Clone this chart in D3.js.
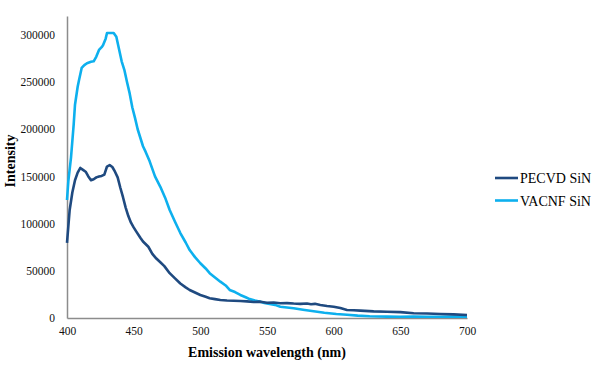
<!DOCTYPE html>
<html>
<head>
<meta charset="utf-8">
<script src="https://cdn.jsdelivr.net/npm/d3@7"></script>
<style>
  body { margin: 0; background: #fff; }
  text { font-family: "Liberation Serif", "Times New Roman", serif; }
</style>
</head>
<body>
<div id="chart"></div>
<script>
// series names
const seriesNames = ["PECVD SiN", "VACNF SiN"];

// wavelength / intensity
const pecvdWl = [400, 402, 404, 406, 408, 410, 412, 414, 416, 418, 420, 422, 424, 426, 428, 430, 432, 434, 436, 438, 440, 442, 444, 446, 448, 450, 452, 455, 457, 461, 464, 467, 470, 473, 477, 481, 485, 489, 492, 496, 500, 504, 507, 511, 515, 520, 525, 530, 535, 540, 545, 550, 555, 560, 565, 570, 575, 580, 583, 586, 590, 595, 600, 605, 610, 615, 620, 630, 640, 650, 660, 670, 680, 690, 700];
const pecvdVal = [79500, 114500, 133000, 146000, 154000, 159000, 157000, 155000, 150000, 146000, 147000, 149000, 150000, 150500, 152000, 160500, 162000, 160000, 155000, 149000, 138000, 128000, 117000, 108000, 101000, 96000, 91500, 85000, 81000, 75500, 68000, 63000, 59000, 55000, 47500, 42000, 36500, 32500, 29700, 27000, 24400, 22500, 21000, 20000, 19000, 18500, 18200, 18000, 17600, 17000, 17300, 16200, 16500, 15600, 15800, 15300, 15000, 15400, 14600, 15000, 13800, 12800, 12000, 10500, 8500, 8200, 7800, 7000, 6700, 6200, 5000, 4800, 4200, 3800, 3200];

const vacnfWl = [400, 401, 403, 405, 406, 408, 409, 411, 413, 415, 418, 420, 422, 424, 426, 427, 429, 430, 432, 435, 437, 439, 441, 443, 445, 447, 449, 451, 453, 455, 457, 459, 462, 466, 470, 474, 477, 481, 485, 489, 492, 496, 500, 504, 507, 511, 515, 519, 522, 526, 530, 534, 537, 541, 545, 548, 552, 556, 560, 565, 570, 577, 585, 593, 602, 610, 618, 627, 640, 650, 660, 670, 680, 690, 700];
const vacnfVal = [125000, 145000, 170000, 205000, 226000, 245000, 252000, 265000, 268000, 270000, 271500, 272000, 277000, 284000, 287000, 289000, 296000, 302000, 302000, 302000, 298000, 285000, 272000, 263000, 250000, 238000, 223000, 212000, 200000, 191000, 182000, 176000, 166000, 150000, 139000, 126000, 114500, 102000, 90000, 80000, 72000, 64500, 58000, 52500, 47500, 43000, 38500, 34500, 29700, 27500, 24400, 22000, 20000, 18500, 17300, 16000, 14800, 13900, 12000, 11200, 10300, 8800, 7200, 5600, 4300, 3500, 2500, 1800, 1500, 1400, 1500, 1300, 1400, 1500, 1500];

const xTicks = [400, 450, 500, 550, 600, 650, 700];
const yTicks = [0, 50000, 100000, 150000, 200000, 250000, 300000];
const colors = ["#1f4a80", "#0db0ee"];
const serif = "'Liberation Serif', 'Times New Roman', serif";

const w = 610, h = 384;
const svg = d3.select("#chart").append("svg")
    .attr("width", w)
    .attr("height", h);

// scales
const xScale = d3.scaleLinear().domain([400, 700]).range([67, 467]);
const yScale = d3.scaleLinear().domain([0, 320000]).range([318, 16]);

// axes (no tick marks, just the labels)
const xAxis = d3.axisBottom(xScale).tickValues(xTicks).tickSize(0).tickPadding(9).tickFormat(d3.format("d"));
const gx = svg.append("g")
    .attr("transform", "translate(0,318)")
    .call(xAxis)
    .attr("font-family", serif)
    .attr("font-size", 11.5);
gx.select(".domain").attr("stroke", "#8c8c8c").attr("stroke-width", 1.5);
gx.selectAll("text").attr("fill", "#111");

const yAxis = d3.axisLeft(yScale).tickValues(yTicks).tickSize(0).tickPadding(12).tickFormat(d3.format("d"));
const gy = svg.append("g")
    .attr("transform", "translate(67,0)")
    .call(yAxis)
    .attr("font-family", serif)
    .attr("font-size", 11.5);
gy.select(".domain").attr("stroke", "#8c8c8c").attr("stroke-width", 1.5);
gy.selectAll("text").attr("fill", "#111");

// lines
const line = d3.line()
    .x(d => xScale(d[0]))
    .y(d => yScale(d[1]));

const series = [
    d3.zip(pecvdWl, pecvdVal),
    d3.zip(vacnfWl, vacnfVal)
];

// draw light blue first so the dark one sits on top like the original
[1, 0].forEach(i => {
    svg.append("path")
        .datum(series[i])
        .attr("fill", "none")
        .attr("stroke", colors[i])
        .attr("stroke-width", 2.6)
        .attr("stroke-linejoin", "round")
        .attr("d", line);
});

// axis titles
svg.append("text")
    .attr("x", 267)
    .attr("y", 357)
    .attr("text-anchor", "middle")
    .attr("font-size", 14)
    .attr("font-weight", "bold")
    .text("Emission wavelength (nm)");

svg.append("text")
    .attr("transform", "translate(15,161) rotate(-90)")
    .attr("text-anchor", "middle")
    .attr("font-size", 14)
    .attr("font-weight", "bold")
    .text("Intensity");

// legend
const legend = svg.append("g");
seriesNames.forEach((name, i) => {
    const ly = 178 + i * 22.5;
    legend.append("line")
        .attr("x1", 495).attr("x2", 518)
        .attr("y1", ly).attr("y2", ly)
        .attr("stroke", colors[i])
        .attr("stroke-width", 2.6);
    legend.append("text")
        .attr("x", 520)
        .attr("y", ly + 5)
        .attr("font-size", 14)
        .text(name);
});
</script>
</body>
</html>
